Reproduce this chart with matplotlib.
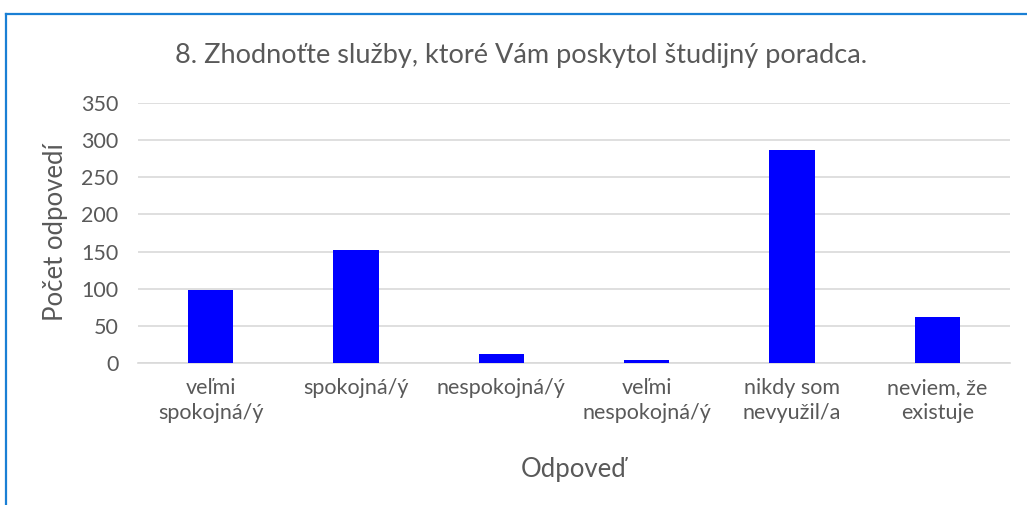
import matplotlib
matplotlib.use("Agg")
import matplotlib.pyplot as plt
from matplotlib.lines import Line2D

categories = ["veľmi\nspokojná/ý", "spokojná/ý", "nespokojná/ý",
              "veľmi\nnespokojná/ý", "nikdy som\nnevyužil/a", "neviem, že\nexistuje"]
values = [98, 152, 12, 4, 287, 61]
yticks = [0, 50, 100, 150, 200, 250, 300, 350]

title = "8. Zhodnoťte služby, ktoré Vám poskytol študijný poradca."
xlabel = "Odpoveď"
ylabel = "Počet odpovedí"

plt.rcParams['font.family'] = ['Lato', 'DejaVu Sans']
txt = '#595959'

fig = plt.figure(figsize=(10.27, 5.05), dpi=100)
ax = fig.add_axes([138/1027, 1-362.7/505, (1010-138)/1027, (362.7-103.3)/505])

x = list(range(len(categories)))
ax.bar(x, values, width=0.31, color='#0000FF', zorder=3)
ax.set_xlim(-0.5, len(categories)-0.5)
ax.set_ylim(0, 350)
ax.set_yticks(yticks)
ax.set_yticklabels([str(v) for v in yticks], fontsize=15.5, color=txt)
ax.set_xticks(x)
ax.set_xticklabels(categories, fontsize=15.5, color=txt, linespacing=1.3)
ax.tick_params(axis='both', length=0)
ax.tick_params(axis='x', pad=11)
ax.tick_params(axis='y', pad=14)
ax.grid(axis='y', color='#D9D9D9', linewidth=1.2, zorder=0)
for s in ['top', 'right', 'left']:
    ax.spines[s].set_visible(False)
ax.spines['bottom'].set_color('#D9D9D9')
ax.spines['bottom'].set_linewidth(1.2)

fig.text(521/1027, 1-55/505, title, ha='center', va='center', fontsize=19.5, color=txt)
fig.text(574/1027, 1-469/505, xlabel, ha='center', va='center', fontsize=18.5, color=txt)
fig.text(55/1027, 1-232/505, ylabel, ha='center', va='center', rotation=90, fontsize=18.5, color=txt)

# outer chart border (only top and left visible)
fig.add_artist(Line2D([5.5/1027, 5.5/1027], [0, 1-14/505], transform=fig.transFigure,
                      color='#1A7FD4', linewidth=1.6))
fig.add_artist(Line2D([5.5/1027, 1], [1-14/505, 1-14/505], transform=fig.transFigure,
                      color='#1A7FD4', linewidth=1.6))

fig.savefig("out.png", dpi=100)
